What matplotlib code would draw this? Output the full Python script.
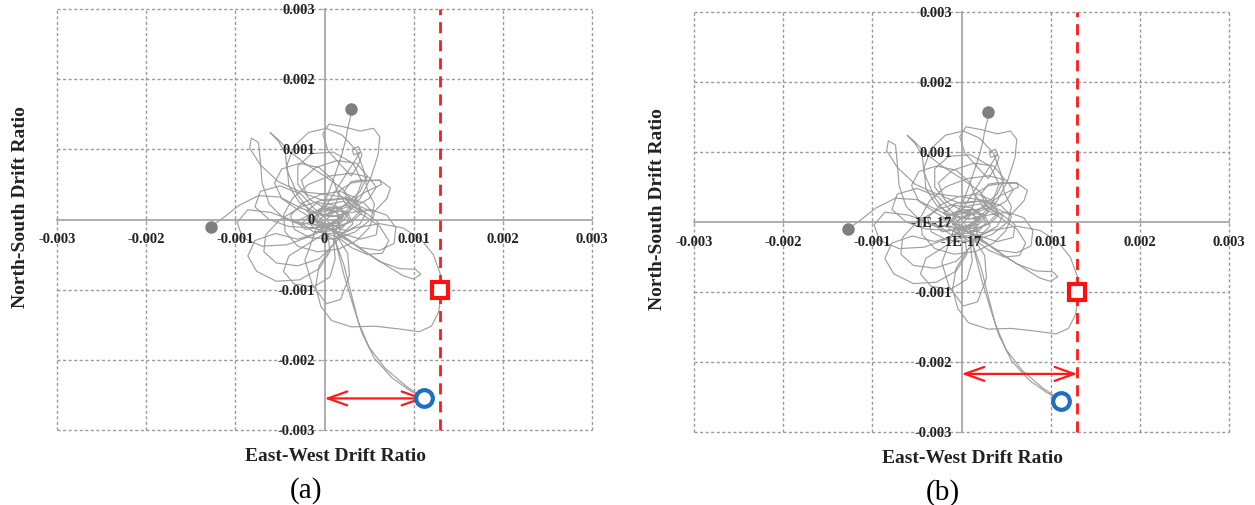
import matplotlib
matplotlib.use("Agg")
import matplotlib.pyplot as plt
from matplotlib.ticker import FixedLocator, FixedFormatter

# ---------------- data (drift ratios, in units of 1e-3) ----------------
tick_values = [-3, -2, -1, 0, 1, 2, 3]
tick_labels_a = ["-0.003", "-0.002", "-0.001", "0", "0.001", "0.002", "0.003"]
tick_labels_b = ["-0.003", "-0.002", "-0.001", "-1E-17", "0.001", "0.002", "0.003"]

path_x = [0.30, 0.29, 0.26, 0.24, 0.20, 0.14, 0.08, 0.02, -0.05, -0.12, -0.05, 0.10, 0.22, 0.18, 0.02, -0.15,
          -0.25, -0.12, 0.08, 0.28, 0.40, 0.36, 0.18, -0.04, -0.24, -0.38, -0.34, -0.16, 0.10, 0.34, 0.52, 0.56, 0.48,
          0.44, 0.36, 0.20, 0.02, -0.18, -0.34, -0.42, -0.40, -0.28, -0.10, 0.08, 0.26,
          0.40, 0.52, 0.60, 0.62, 0.55, 0.40, 0.22, 0.05, -0.02, 0.04, 0.18, 0.30,
          0.38, 0.42, 0.38, 0.31, 0.33, 0.40, 0.34, 0.22, 0.10, 0.00,
          -0.18, -0.30, -0.22, 0.00, 0.16, 0.30, 0.22, 0.04, -0.10, -0.02, 0.14, 0.32, 0.42, 0.30, 0.12, 0.02, 0.10,
          0.26, 0.40, 0.46,
          0.30, 0.00, -0.28, -0.52, -0.72, -0.84, -0.82, -0.74, -0.72, -0.70, -0.62, -0.46, -0.26,
          -0.10, -0.30, -0.42, -0.44, -0.52, -0.61, -0.52, -0.40, -0.22, 0.00, 0.20, 0.34,
          0.55, 0.70, 0.74, 0.62, 0.45, 0.30, 0.15, 0.25, 0.45, 0.62, 0.72, 0.65, 0.48, 0.30, 0.15,
          -0.05, -0.30, -0.55, -0.78, -0.86, -0.76, -0.54, -0.28, -0.06, 0.06, 0.04, -0.08,
          -0.14, -0.22, -0.14, 0.02, 0.18, 0.28, 0.26, 0.14,
          0.34, 0.62, 0.88, 1.08, 1.22, 1.30, 1.31, 1.28, 1.20, 1.06, 0.84, 0.56, 0.30, 0.08, -0.04, -0.10, -0.06,
          0.08, 0.20,
          0.38, 0.62, 0.84, 1.02, 1.08, 1.00, 0.88, 0.70, 0.48, 0.28, 0.10,
          -0.06, -0.20, -0.08, 0.12, 0.26, 0.16, -0.02, -0.16, -0.06, 0.10, 0.20, 0.08,
          0.14, 0.22, 0.32, 0.42, 0.56, 0.76, 0.96, 1.12, 0.92, 0.68, 0.50, 0.38, 0.30, 0.22, 0.12,
          -0.10, -0.40, -0.62, -0.78, -0.72, -0.50, -0.26, -0.12, 0.00,
          0.20, 0.40, 0.48, 0.36, 0.14, -0.10, -0.26, -0.20, 0.00, 0.22, 0.34,
          0.50, 0.58, 0.50, 0.30, 0.06, -0.18, -0.36, -0.46, -0.44, -0.30, -0.08, 0.16, 0.36, 0.50, 0.56,
          0.44, 0.22, -0.02, -0.26, -0.50, -0.66, -0.68, -0.54, -0.30, -0.06, 0.10, 0.18, 0.14,
          0.30, 0.52, 0.70, 0.80, 0.78, 0.62, 0.40, 0.20, 0.02, -0.14,
          -0.30, -0.48, -0.56, -0.48, -0.28, -0.06, 0.10, 0.16, 0.10, -0.04,
          0.06, 0.20, 0.28, 0.20, 0.04, -0.10, -0.06, 0.10, 0.26, 0.32, 0.22, 0.04, -0.14, -0.18, -0.04, 0.14,
          0.18, 0.06,
          0.00, -0.20, -0.40, -0.46, -0.34, -0.12, 0.06, 0.12, 0.10,
          0.16, 0.34, 0.42, 0.32, 0.10, -0.14, -0.30, -0.30, -0.16, 0.04,
          0.24, 0.44, 0.64, 0.62, 0.40, 0.30, 0.22, 0.28, 0.46, 0.60, 0.58, 0.40, 0.20,
          0.00, -0.30, -0.60, -0.86, -0.98, -0.92, -0.70, -0.42, -0.16, 0.02,
          0.20, -0.04, -0.26, -0.50, -0.74, -0.96, -1.12, -1.27]
path_y = [1.57, 1.45, 1.30, 1.15, 0.95, 0.72, 0.50, 0.30, 0.12, 0.02, -0.08, -0.06, 0.04, 0.16, 0.18, 0.08,
          -0.06, -0.18, -0.16, -0.04, 0.12, 0.30, 0.40, 0.36, 0.24, 0.06, -0.14, -0.26, -0.28, -0.18, 0.00, 0.22, 0.42,
          0.70, 0.98, 1.20, 1.30, 1.24, 1.05, 0.78, 0.48, 0.24, 0.10, 0.04, 0.10,
          0.30, 0.60, 0.92, 1.18, 1.30, 1.26, 1.32, 1.36, 1.22, 0.98, 0.78, 0.62,
          0.78, 0.92, 1.04, 1.00, 0.92, 0.96, 0.84, 0.60, 0.36, 0.16,
          0.06, -0.02, -0.14, -0.10, 0.02, 0.14, 0.26, 0.22, 0.10, -0.04, -0.10, -0.02, 0.10, 0.20, 0.12, 0.00, -0.12,
          -0.16, -0.06, 0.08,
          0.30, 0.36, 0.40, 0.54, 0.78, 1.02, 1.16, 1.10, 0.84, 0.52, 0.22, 0.02, -0.08,
          0.00, 0.35, 0.70, 0.95, 1.12, 1.24, 1.14, 0.98, 0.80, 0.62, 0.44, 0.22,
          0.10, 0.30, 0.45, 0.56, 0.55, 0.52, 0.40, 0.20, 0.05, -0.10, -0.30, -0.48, -0.50, -0.40, -0.25,
          -0.18, -0.28, -0.20, -0.30, -0.52, -0.74, -0.88, -0.86, -0.70, -0.46, -0.22, -0.08,
          -0.30, -0.58, -0.92, -1.20, -1.14, -0.80, -0.48, -0.24,
          -0.12, -0.06, -0.12, -0.28, -0.50, -0.78, -1.05, -1.32, -1.52, -1.60, -1.56, -1.52, -1.53, -1.44, -1.24,
          -0.96, -0.66, -0.38, -0.22,
          -0.40, -0.60, -0.70, -0.71, -0.78, -0.85, -0.80, -0.66, -0.48, -0.30, -0.16,
          -0.02, 0.12, 0.24, 0.20, 0.06, -0.08, -0.12, -0.04, 0.10, 0.14, 0.02, -0.06,
          -0.40, -0.80, -1.22, -1.62, -1.98, -2.26, -2.44, -2.55, -2.38, -2.12, -1.82, -1.46, -1.06, -0.66, -0.30,
          -0.12, -0.10, 0.00, 0.18, 0.40, 0.48, 0.36, 0.16, 0.04,
          0.18, 0.40, 0.62, 0.80, 0.84, 0.74, 0.56, 0.36, 0.26, 0.30, 0.18,
          0.30, 0.46, 0.60, 0.66, 0.62, 0.50, 0.30, 0.06, -0.18, -0.38, -0.46, -0.42, -0.30, -0.12, 0.08,
          0.24, 0.30, 0.28, 0.18, 0.00, -0.22, -0.46, -0.62, -0.66, -0.56, -0.36, -0.14, 0.06,
          0.10, 0.14, 0.06, -0.12, -0.34, -0.44, -0.40, -0.26, -0.10, 0.02,
          0.14, 0.30, 0.52, 0.72, 0.80, 0.74, 0.56, 0.34, 0.14, 0.02,
          0.10, 0.12, 0.00, -0.12, -0.14, -0.04, 0.12, 0.18, 0.10, -0.06, -0.18, -0.20, -0.10, 0.06, 0.16, 0.10,
          -0.04, -0.08,
          -0.20, -0.36, -0.52, -0.74, -0.92, -0.96, -0.82, -0.56, -0.30,
          0.00, 0.26, 0.54, 0.80, 0.96, 0.94, 0.76, 0.50, 0.28, 0.14,
          0.20, 0.38, 0.50, 0.56, 0.56, 0.54, 0.40, 0.22, 0.10, -0.04, -0.22, -0.28, -0.20,
          -0.10, -0.04, 0.10, 0.14, -0.04, -0.26, -0.38, -0.36, -0.24, -0.10,
          0.04, 0.06, 0.16, 0.32, 0.34, 0.20, 0.04, -0.10]

start_pt = (0.30, 1.57)
end_pt = (-1.27, -0.10)
peak_pt = (1.12, -2.55)          # blue circle
limit_pt = (1.30, -1.00)         # red square
limit_x = 1.30                   # red dashed line
arrow_a = (0.0, 1.12, -2.55)     # x0, x1, y
arrow_b = (0.0, 1.30, -2.17)
panel_names = ["(a)", "(b)"]

SCALE = 1e-3

plt.rcParams["font.family"] = ["Liberation Serif", "DejaVu Serif"]

fig = plt.figure(figsize=(12.55, 5.05), dpi=100)
W, H = 1255, 505
boxes = [(57, 9, 592, 430), (694, 12, 1229, 432)]


def draw(ax, ticklabels, arrow, name):
    ax.set_xlim(-3 * SCALE, 3 * SCALE)
    ax.set_ylim(-3 * SCALE, 3 * SCALE)
    ax.set_axisbelow(False)
    grid_kw = dict(color="#9a9a9a", lw=1.0, ls=(0, (2.2, 1.8)), clip_on=False, zorder=1)
    for t in tick_values:
        if t != 0:
            ax.axvline(t * SCALE, **grid_kw)
            ax.axhline(t * SCALE, **grid_kw)
    for side in ["top", "right"]:
        ax.spines[side].set_visible(False)
    for side in ["left", "bottom"]:
        ax.spines[side].set_position(("data", 0))
        ax.spines[side].set_color("#a8a8a8")
        ax.spines[side].set_linewidth(1.3)
        ax.spines[side].set_zorder(1.5)
    pos = [t * SCALE for t in tick_values]
    ax.xaxis.set_major_locator(FixedLocator(pos))
    ax.yaxis.set_major_locator(FixedLocator(pos))
    ax.xaxis.set_major_formatter(FixedFormatter(ticklabels))
    ax.yaxis.set_major_formatter(FixedFormatter(ticklabels))
    ax.tick_params(axis="both", length=3, color="#a8a8a8", direction="out")
    ax.tick_params(axis="x", pad=7)
    ax.tick_params(axis="y", pad=4)
    for lab in ax.get_xticklabels() + ax.get_yticklabels():
        lab.set_fontweight("bold")
        lab.set_fontsize(10.5)
        lab.set_color("#222222")

    ax.plot([v * SCALE for v in path_x], [v * SCALE for v in path_y],
            color="#a0a0a0", lw=0.85, zorder=2, solid_joinstyle="round")
    ax.plot(start_pt[0] * SCALE, start_pt[1] * SCALE, "o", color="#7f7f7f", ms=8, zorder=4)
    ax.plot(end_pt[0] * SCALE, end_pt[1] * SCALE, "o", color="#7f7f7f", ms=8, zorder=4)
    ax.axvline(limit_x * SCALE, color="#ff1a1a", lw=2.0, ls=(0, (4, 2.5)), zorder=3, clip_on=False)
    ax.plot(limit_pt[0] * SCALE, limit_pt[1] * SCALE, "s", mfc="white", mec="#ff1010",
            mew=3, ms=12, zorder=6)
    ax.plot(peak_pt[0] * SCALE, peak_pt[1] * SCALE, "o", mfc="white", mec="#1f6fc0",
            mew=3, ms=12, zorder=6)
    x0, x1, ya = arrow
    ax.annotate("", xy=(x1 * SCALE, ya * SCALE), xytext=(x0 * SCALE, ya * SCALE),
                arrowprops=dict(arrowstyle="<->,head_length=1.4,head_width=0.5",
                                color="#ff1a1a", lw=1.6, shrinkA=0, shrinkB=0), zorder=5)
    ax.text(0.52, -0.064, "East-West Drift Ratio", transform=ax.transAxes, ha="center",
            va="center", fontsize=14, fontweight="bold", color="#222222")
    ax.text(-0.068, 0.53, "North-South Drift Ratio", transform=ax.transAxes, ha="center",
            va="center", rotation=90, fontsize=14, fontweight="bold", color="#222222")
    ax.text(0.466, -0.143, name, transform=ax.transAxes, ha="center", va="center",
            fontsize=21, color="black")


for (l, t, r, b), labels, arr, name in zip(boxes, [tick_labels_a, tick_labels_b],
                                           [arrow_a, arrow_b], panel_names):
    ax = fig.add_axes([l / W, 1 - b / H, (r - l) / W, (b - t) / H])
    ax.set_facecolor("none")
    draw(ax, labels, arr, name)

fig.savefig("out.png", dpi=100, facecolor="white")
